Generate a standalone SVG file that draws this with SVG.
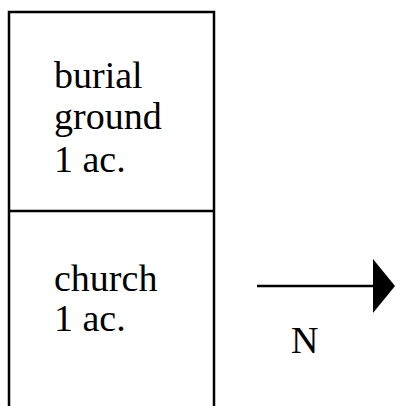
<svg xmlns="http://www.w3.org/2000/svg" width="396" height="406" viewBox="0 0 396 406">
<style>
.ln{stroke:#000;stroke-width:2.5;fill:none}
.t{font-family:"Liberation Serif","Times New Roman",serif;font-size:38px;fill:#000}
</style>
<rect width="396" height="406" fill="#fff"/>
<g id="burial-ground">
<path class="ln" d="M9,211 V12 H214 V211"/>
<text class="t" x="54" y="88">burial</text>
<text class="t" x="54" y="129">ground</text>
<text class="t" x="54" y="172">1 ac.</text>
</g>
<g id="church">
<path class="ln" d="M9,211 H214 M9,211 V406 M214,211 V406"/>
<text class="t" x="54" y="291">church</text>
<text class="t" x="54" y="331">1 ac.</text>
</g>
<g id="connectors">
<line x1="257" y1="286" x2="376" y2="286" stroke="#000" stroke-width="2.5"/>
<polygon points="373,259 395,286 373,313" fill="#000"/>
</g>
<g id="north">
<text class="t" x="291" y="353">N</text>
</g>
</svg>
